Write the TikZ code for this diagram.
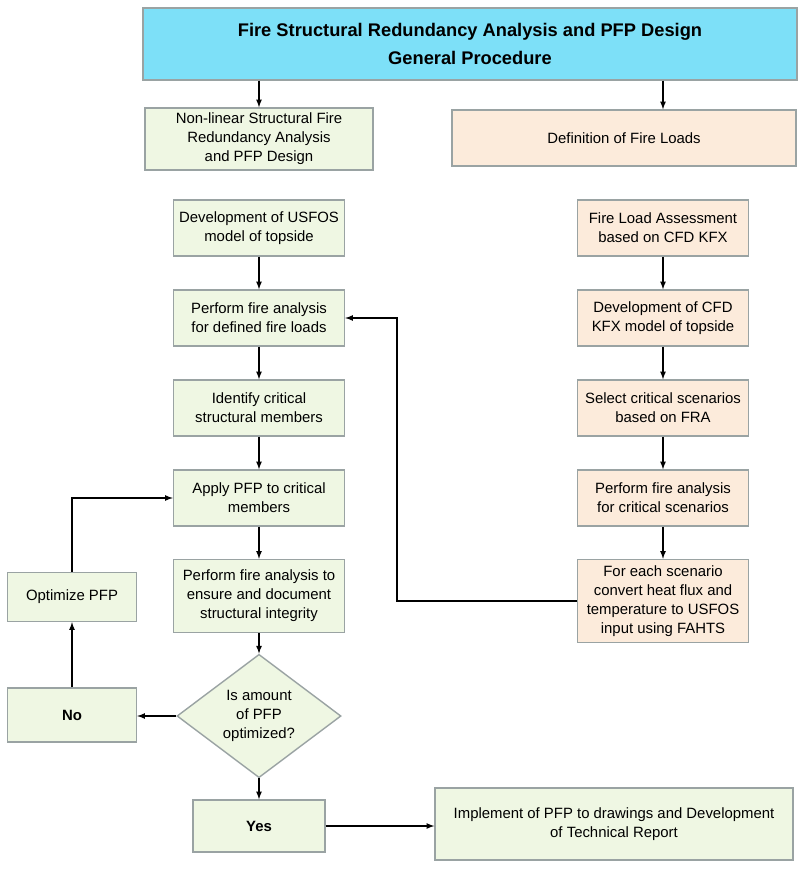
\documentclass[tikz,border=0pt]{standalone}
\usepackage{fontspec}
\setmainfont{Liberation Sans}
\usepackage{xcolor}
\usepackage{tikz}
\usetikzlibrary{shapes.geometric,arrows,positioning}
\definecolor{titlecyan}{HTML}{7DE0F8}
\definecolor{greenfill}{HTML}{EFF7E3}
\definecolor{peachfill}{HTML}{FCEBDB}
\definecolor{boxline}{HTML}{9AA3A3}

\begin{document}
\begin{tikzpicture}[x=0.025cm,y=-0.025cm,
	box/.style={draw=boxline,line width=1pt,align=center,inner sep=2pt,
		font=\fontsize{10.6}{13.5}\selectfont},
	greenbox/.style={box,fill=greenfill,minimum width=4.275cm,minimum height=1.4cm},
	peachbox/.style={box,fill=peachfill,minimum width=4.275cm,minimum height=1.4cm},
	line/.style={-latex,line width=0.9pt}]
	\useasboundingbox (0,0) rectangle (800,872);
	% heads
	\node[box,fill=titlecyan,minimum width=16.35cm,minimum height=1.8cm,
		font=\fontsize{13}{20}\selectfont\bfseries] (title) at (470,44)
		{Fire Structural Redundancy Analysis and PFP Design\\General Procedure};
	\node[box,fill=greenfill,minimum width=5.7cm,minimum height=1.55cm] (nonlin) at (259,139)
		{Non-linear Structural Fire\\Redundancy Analysis\\and PFP Design};
	\node[box,fill=peachfill,minimum width=8.6cm,minimum height=1.4cm] (deffire) at (624,138)
		{Definition of Fire Loads};
	% left column
	\node[greenbox] (usfos) at (259,228) {Development of USFOS\\model of topside};
	\node[greenbox] (pfa) at (259,318) {Perform fire analysis\\for defined fire loads};
	\node[greenbox] (ident) at (259,408) {Identify critical\\structural members};
	\node[greenbox] (apply) at (259,498) {Apply PFP to critical\\members};
	\node[greenbox,minimum height=1.825cm] (ensure) at (259,596)
		{Perform fire analysis to\\ensure and document\\structural integrity};
	\node[diamond,draw=boxline,line width=1pt,fill=greenfill,minimum width=4.1cm,
		minimum height=3.05cm,inner sep=0pt,align=center,
		font=\fontsize{10.6}{13.5}\selectfont] (dec) at (259,716)
		{Is amount\\of PFP\\optimized?};
	\node[box,fill=greenfill,minimum width=3.3cm,minimum height=1.3cm,font=\fontsize{10.6}{13}\selectfont\bfseries] (yes) at (259,826) {Yes};
	\node[box,fill=greenfill,minimum width=3.225cm,minimum height=1.35cm,font=\fontsize{10.6}{13}\selectfont\bfseries] (no) at (72,715) {No};
	\node[box,fill=greenfill,minimum width=3.225cm,minimum height=1.225cm] (opt) at (72,597) {Optimize PFP};
	\node[box,fill=greenfill,minimum width=8.95cm,minimum height=1.8cm] (impl) at (614,824)
		{Implement of PFP to drawings and Development\\of Technical Report};
	% right column
	\node[peachbox] (fla) at (663,228) {Fire Load Assessment\\based on CFD KFX};
	\node[peachbox] (cfd) at (663,318) {Development of CFD\\KFX model of topside};
	\node[peachbox] (sel) at (663,408) {Select critical scenarios\\based on FRA};
	\node[peachbox] (pfc) at (663,498) {Perform fire analysis\\for critical scenarios};
	\node[peachbox,minimum height=2.075cm] (conv) at (663,601)
		{For each scenario\\convert heat flux and\\temperature to USFOS\\input using FAHTS};
	\coordinate (loop) at (397,318);
	% connectors
	\draw[line] (title.south -| nonlin.north) -- (nonlin.north);
	\draw[line] (title.south -| fla.north) -- (deffire.north -| fla.north);
	\foreach \a/\b in {usfos/pfa,pfa/ident,ident/apply,apply/ensure,ensure/dec,
		fla/cfd,cfd/sel,sel/pfc,pfc/conv}
		\draw[line] (\a) -- (\b);
	\draw[line] (conv.west) -| (loop) -- (pfa.east);
	\draw[line] (dec.west) -- (dec.west -| no.east);
	\draw[line] (no.north) -- (opt.south);
	\draw[line] (opt.north) |- (apply.west);
	\draw[line] (dec.south) -- (yes.north);
	\draw[line] (yes.east) -- (yes.east -| impl.west);
\end{tikzpicture}
\end{document}
